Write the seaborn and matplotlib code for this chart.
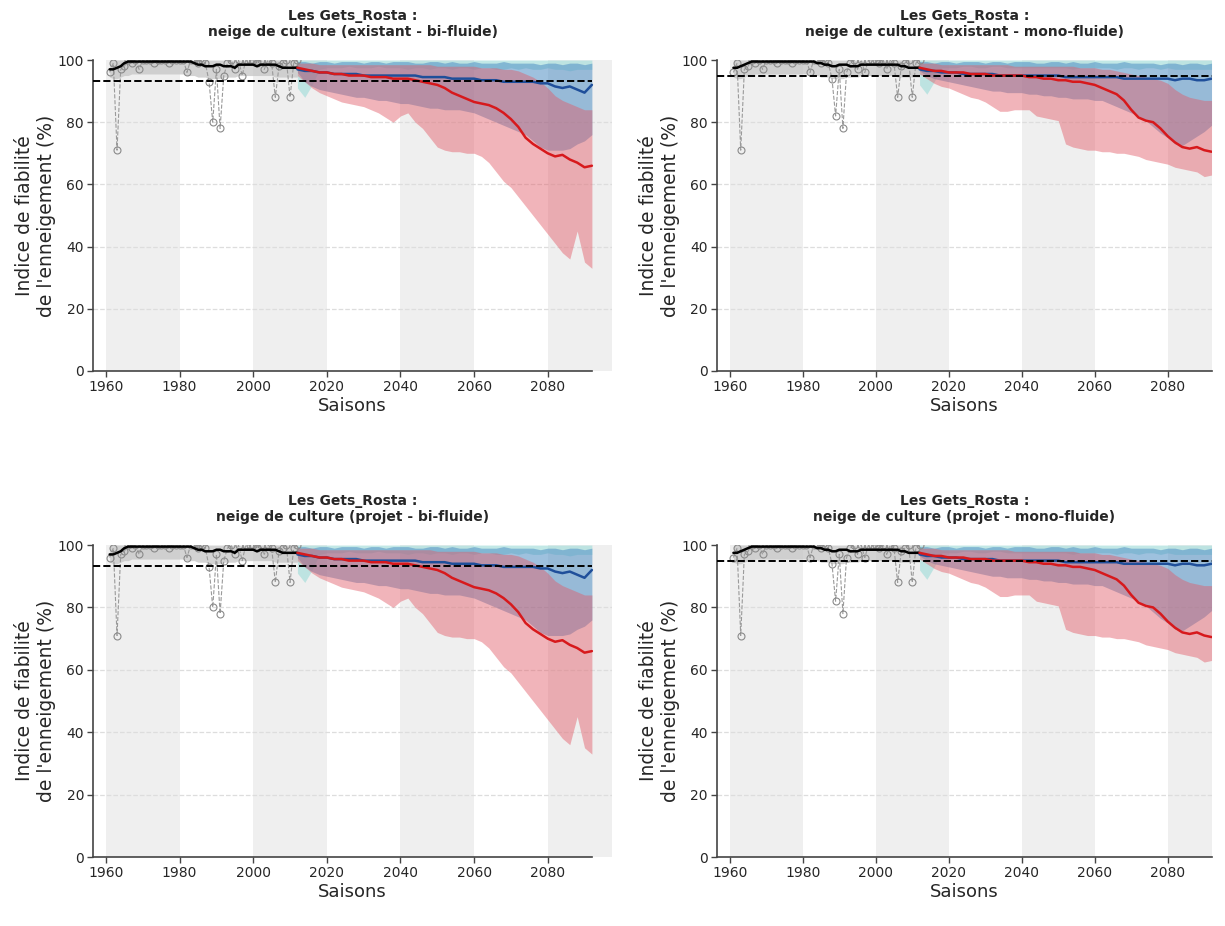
import numpy as np
import pandas as pd
import matplotlib
matplotlib.use("Agg")
import matplotlib.pyplot as plt
import seaborn as sns

# Saisons observées / réanalyse
hist_years = list(range(1961, 2013))
hist_bi = [96, 99, 71, 97, 98, 100, 99, 100, 97, 100, 100, 100, 99, 100, 100, 100, 99, 100, 100, 100,
           100, 96, 100, 100, 99, 100, 99, 93, 80, 97, 78, 95, 99, 100, 97, 100, 95, 100, 100, 100,
           99, 100, 97, 100, 99, 88, 98, 99, 100, 88, 99, 100]
hist_mono = [96, 99, 71, 97, 98, 100, 99, 100, 97, 100, 100, 100, 99, 100, 100, 100, 99, 100, 100, 100,
             100, 96, 100, 100, 99, 100, 99, 94, 82, 97, 78, 96, 99, 100, 97, 100, 96, 100, 100, 100,
             99, 100, 97, 100, 99, 88, 98, 99, 100, 88, 99, 100]
hist_mean_bi = [97, 97, 97.5, 98, 99, 99.5, 99.5, 99.5, 99.5, 99.5, 99.5, 99.5, 99.5, 99.5, 99.5, 99.5,
                99.5, 99.5, 99.5, 99.5, 99.5, 99.5, 99.5, 99, 98.5, 98.5, 98, 98, 98, 98.5, 98.5, 98,
                98, 98, 97.5, 98.5, 98.5, 98.5, 98.5, 98.5, 98, 98.5, 98.5, 98.5, 98.5, 98.5, 98, 97.5,
                97.5, 97.5, 97.5, 97.5]
hist_mean_mono = [97.5, 97.5, 98, 98.5, 99, 99.5, 99.5, 99.5, 99.5, 99.5, 99.5, 99.5, 99.5, 99.5, 99.5, 99.5,
                  99.5, 99.5, 99.5, 99.5, 99.5, 99.5, 99.5, 99, 99, 98.5, 98.5, 98, 98, 98.5, 98.5, 98.5,
                  98, 98, 98, 98.5, 98.5, 98.5, 98.5, 98.5, 98.5, 98.5, 98.5, 98.5, 98.5, 98.5, 98, 98,
                  97.5, 97.5, 97.5, 97.5]
hist_low = [94.5, 94, 94, 94.5, 95, 95, 95.5, 95.5, 95.5, 95.5, 95.5, 95.5, 95.5, 95.5, 95.5, 95.5,
            95.5, 95.5, 95.5, 95.5, 95.5, 95, 95, 95, 94.5, 94.5, 94.5, 94, 94, 94, 94, 94.5,
            94.5, 94.5, 94.5, 95, 95, 95, 95, 95, 95, 95, 95, 95, 95, 94.5, 94.5, 94.5,
            94.5, 94.5, 94.5, 94.5]
hist_high = [100] * len(hist_years)

seuil_bi = 93.3
seuil_mono = 95.0

# Projections (pas de 2 ans)
proj_years = list(range(2012, 2093, 2))

rcp85_med_bi = [97.5, 97, 96.5, 96, 96, 95.5, 95.5, 95, 95, 95, 94.5, 94.5, 94.5, 94, 94, 94, 93.5, 93, 92.5, 92,
                91, 89.5, 88.5, 87.5, 86.5, 86, 85.5, 84.5, 83, 81, 78.5, 75, 73, 71.5, 70, 69, 69.5, 68, 67,
                65.5, 66]
rcp85_low_bi = [95, 93, 91, 89.5, 88.5, 87.5, 86.5, 86, 85.5, 85, 84, 83, 81.5, 80, 82, 83, 80, 78, 75, 72,
                71, 70.5, 70.5, 70, 70, 69, 67, 64, 61, 59, 56, 53, 50, 47, 44, 41, 38, 36, 45, 35, 33]
rcp85_up_bi = [99, 99, 99, 98.5, 98.5, 98.5, 98.5, 98.5, 98.5, 98.5, 98.5, 98.5, 98.5, 98.5, 98.5, 98.5,
               98.5, 98.5, 98.5, 98, 98, 98, 98, 98, 98, 97.5, 97.5, 97.5, 97, 97, 96.5, 95.5, 94.5, 93,
               91, 88.5, 87, 86, 85, 84, 84]
rcp45_med_bi = [97, 96.5, 96.5, 96, 96, 95.5, 95.5, 95.5, 95.5, 95, 95, 95, 95, 95, 95, 95, 95, 94.5, 94.5,
                94.5, 94.5, 94, 94, 94, 94, 93.5, 93.5, 93.5, 93, 93, 93, 93, 93, 92.5, 92.5, 91.5, 91, 91.5,
                90.5, 89.5, 92]
rcp45_low_bi = [96, 93, 91.5, 90.5, 90, 89.5, 89, 88.5, 88, 88, 87.5, 87, 87, 86.5, 86, 86, 85.5, 85, 84.5,
                84.5, 84, 84, 84, 83.5, 83, 82, 81, 80, 79, 78, 77, 76, 74, 72, 71, 71, 71, 71.5, 73, 74, 76]
rcp45_up_bi = [99.5, 99.5, 99, 99.5, 99.5, 99, 99.5, 99.5, 99.5, 99, 99.5, 99.5, 99, 99.5, 99.5, 99.5, 99,
               99, 99.5, 99.5, 99, 99.5, 99, 99, 99.5, 99, 99, 99, 99.5, 99, 99, 99, 99, 98.5, 99, 99, 98.5,
               99, 99, 98.5, 99]
rcp26_low_bi = [91, 88, 92, 97, 97.5, 97.5, 97.5, 98, 97.5, 97.5, 97.5, 98, 97.5, 97.5, 97.5, 97, 97.5,
                97.5, 97, 97.5, 97.5, 97, 97.5, 97.5, 97, 97.5, 97.5, 97, 97, 97.5, 97, 97.5, 97, 97, 97.5,
                97, 97, 96.5, 97, 97, 97]
rcp26_up = [100, 100, 100, 100, 100, 100, 100, 100, 100, 100, 100, 100, 100, 100, 100, 100, 100, 100, 100,
            100, 100, 100, 100, 100, 100, 100, 100, 100, 100, 100, 100, 100, 100, 100, 100, 100, 100, 100,
            100, 100, 100]

rcp85_med_mono = [97.5, 97, 96.5, 96.5, 96, 96, 96, 95.5, 95.5, 95.5, 95, 95, 95, 95, 95, 94.5, 94.5, 94,
                  94, 93.5, 93.5, 93, 93, 92.5, 92, 91, 90, 89, 87, 84, 81.5, 80.5, 80, 78, 75.5, 73.5, 72,
                  71.5, 72, 71, 70.5]
rcp85_low_mono = [95.5, 94, 92.5, 91.5, 91, 90, 89, 88, 87.5, 86.5, 85, 83.5, 83.5, 84, 84, 84, 82, 81.5,
                  81, 80.5, 73, 72, 71.5, 71, 71, 70.5, 70.5, 70, 70, 69.5, 69, 68, 67.5, 67, 66.5, 65.5,
                  65, 64.5, 64, 62.5, 63]
rcp85_up_mono = [99, 99, 99, 98.5, 98.5, 98.5, 98.5, 98.5, 98.5, 98.5, 98.5, 98.5, 98.5, 98, 98, 98, 98, 98,
                 98, 98, 98, 98, 97.5, 97.5, 97.5, 97, 97, 96.5, 96, 95.5, 95, 94.5, 94, 93.5, 92.5, 90.5, 89,
                 88, 87.5, 87, 87]
rcp45_med_mono = [97, 96.5, 96.5, 96, 96, 96, 95.5, 95.5, 95.5, 95.5, 95.5, 95, 95, 95, 95, 95, 95, 95, 95,
                  95, 94.5, 94.5, 94.5, 94.5, 94.5, 94.5, 94.5, 94.5, 94, 94, 94, 94, 94, 94, 94, 93.5, 94,
                  94, 93.5, 93.5, 94]
rcp45_low_mono = [96.5, 95, 94, 93.5, 93, 92.5, 92, 91.5, 91, 90.5, 90, 90, 89.5, 89.5, 89.5, 89, 89, 88.5,
                  88.5, 88, 88, 87.5, 87.5, 87.5, 87, 87, 86, 85, 84, 83, 82, 80.5, 78.5, 76.5, 75, 73, 72.5,
                  74, 75.5, 77, 79]
rcp45_up_mono = rcp45_up_bi
rcp26_low_mono = [92, 89, 93, 97.5, 97.5, 97.5, 98, 98, 97.5, 97.5, 98, 98, 97.5, 97.5, 97.5, 97.5, 97.5,
                  97.5, 97.5, 97.5, 97.5, 97, 97.5, 97.5, 97.5, 97.5, 97.5, 97, 97.5, 97.5, 97, 97.5, 97.5,
                  97, 97.5, 97, 97, 97, 97, 97, 97]

titles = ["Les Gets_Rosta :\nneige de culture (existant - bi-fluide)",
          "Les Gets_Rosta :\nneige de culture (existant - mono-fluide)",
          "Les Gets_Rosta :\nneige de culture (projet - bi-fluide)",
          "Les Gets_Rosta :\nneige de culture (projet - mono-fluide)"]

sns.set_style("white")
plt.rcParams['font.family'] = ['DejaVu Sans']

fig = plt.figure(figsize=(12.25, 9.26), dpi=100)
positions = [[0.076, 0.5994, 0.4237, 0.3358], [0.5853, 0.5994, 0.4037, 0.3358],
             [0.076, 0.0745, 0.4237, 0.3369], [0.5853, 0.0745, 0.4037, 0.3369]]


def draw(ax, mono, xmax):
    if mono:
        h, hm, seuil = hist_mono, hist_mean_mono, seuil_mono
        r85 = (rcp85_low_mono, rcp85_up_mono, rcp85_med_mono)
        r45 = (rcp45_low_mono, rcp45_up_mono, rcp45_med_mono)
        r26 = rcp26_low_mono
    else:
        h, hm, seuil = hist_bi, hist_mean_bi, seuil_bi
        r85 = (rcp85_low_bi, rcp85_up_bi, rcp85_med_bi)
        r45 = (rcp45_low_bi, rcp45_up_bi, rcp45_med_bi)
        r26 = rcp26_low_bi

    for start in [1960, 2000, 2040, 2080]:
        ax.axvspan(start, start + 20, color="#efefef", zorder=0, lw=0)
    for yv in [20, 40, 60, 80]:
        ax.axhline(yv, color="#dddddd", ls="--", lw=0.9, zorder=0.5)

    # historique
    ax.fill_between(hist_years, hist_low, hist_high, color="#c8c8c8", alpha=0.8, lw=0, zorder=1)
    df_h = pd.DataFrame({"annee": hist_years, "indice": h})
    sns.lineplot(data=df_h, x="annee", y="indice", ax=ax, color="#9a9a9a", lw=0.8, ls="--",
                 marker="o", markersize=5, markerfacecolor="none", markeredgecolor="#8a8a8a",
                 markeredgewidth=0.8, zorder=2)
    sns.lineplot(x=hist_years, y=hm, ax=ax, color="black", lw=1.8, zorder=3)

    # projections
    ax.fill_between(proj_years, r26, rcp26_up, color="#a9dfdc", alpha=0.7, lw=0, zorder=1)
    ax.fill_between(proj_years, r45[0], r45[1], color="#4f8fc4", alpha=0.55, lw=0, zorder=1.2)
    ax.fill_between(proj_years, r85[0], r85[1], color="#e25a66", alpha=0.45, lw=0, zorder=1.4)
    sns.lineplot(x=proj_years, y=r45[2], ax=ax, color="#1f4f9a", lw=1.8, zorder=4)
    sns.lineplot(x=proj_years, y=r85[2], ax=ax, color="#d7191c", lw=1.8, zorder=4)

    ax.axhline(seuil, xmin=0, xmax=(2092 - 1956.5) / (xmax - 1956.5), color="black", ls="--", lw=1.4, zorder=5)

    ax.set_xlim(1956.5, xmax)
    ax.set_ylim(0, 100)
    ax.set_xticks([1960, 1980, 2000, 2020, 2040, 2060, 2080])
    ax.set_yticks([0, 20, 40, 60, 80, 100])
    sns.despine(ax=ax)
    ax.spines["bottom"].set_bounds(1956.5, 2092)
    for s in ["left", "bottom"]:
        ax.spines[s].set_color("#444444")
        ax.spines[s].set_linewidth(1.2)
    ax.tick_params(axis="both", direction="out", length=4, width=1, color="#444444",
                   labelsize=10, left=True, bottom=True, pad=2.5)
    ax.set_xlabel("Saisons", fontsize=13, labelpad=2)
    ax.set_ylabel("Indice de fiabilité\nde l'enneigement (%)", fontsize=13.5, labelpad=1)


for i, pos in enumerate(positions):
    ax = fig.add_axes(pos)
    mono = i % 2 == 1
    draw(ax, mono, 2092 if mono else 2097.5)
    ax.set_title(titles[i], fontsize=10, fontweight="bold", pad=17)

fig.savefig("out.png", dpi=100)
